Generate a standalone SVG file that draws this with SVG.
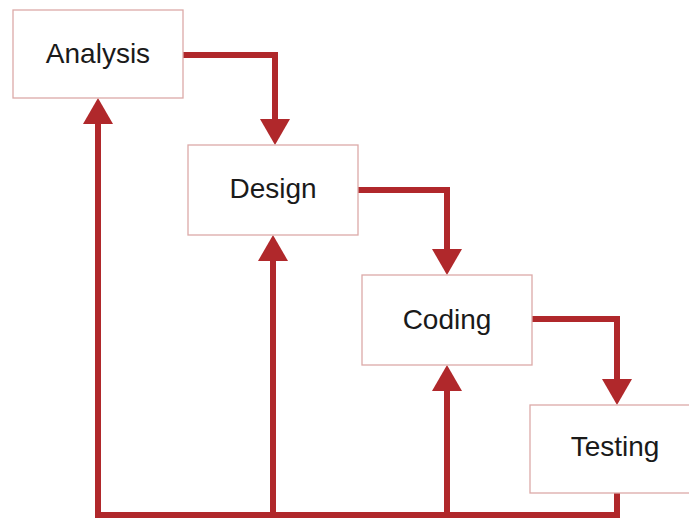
<svg xmlns="http://www.w3.org/2000/svg" width="689" height="519" viewBox="0 0 689 519">
<style>
.box{fill:#ffffff;stroke:#dcaaa8;stroke-width:1.3}
.lbl{font-family:"Liberation Sans",Arial,sans-serif;font-size:28px;fill:#1a1a1a;text-anchor:middle}
.con{fill:none;stroke:#b0282b;stroke-width:6;stroke-linejoin:miter}
</style>
<defs>
<marker id="ah" markerUnits="userSpaceOnUse" markerWidth="26" markerHeight="30" refX="14" refY="15" orient="auto">
<path d="M0,0 L26,15 L0,30 Z" fill="#b0282b"/>
</marker>
</defs>
<rect width="689" height="519" fill="#ffffff"/>
<g id="connectors">
<path class="con" d="M183,55 H275 V133" marker-end="url(#ah)"/>
<path class="con" d="M358,190 H447 V263" marker-end="url(#ah)"/>
<path class="con" d="M532,319 H617 V393" marker-end="url(#ah)"/>
<path class="con" d="M617,493 V515 H98 V110" marker-end="url(#ah)"/>
<path class="con" d="M273,515 V247" marker-end="url(#ah)"/>
<path class="con" d="M447,515 V377" marker-end="url(#ah)"/>
</g>
<g id="analysis">
<rect class="box" x="13" y="10" width="170" height="88"/>
<text class="lbl" x="98" y="63">Analysis</text>
</g>
<g id="design">
<rect class="box" x="188" y="145" width="170" height="90"/>
<text class="lbl" x="273" y="198">Design</text>
</g>
<g id="coding">
<rect class="box" x="362" y="275" width="170" height="90"/>
<text class="lbl" x="447" y="329">Coding</text>
</g>
<g id="testing">
<rect class="box" x="530" y="405" width="170" height="88"/>
<text class="lbl" x="615" y="456">Testing</text>
</g>
</svg>
